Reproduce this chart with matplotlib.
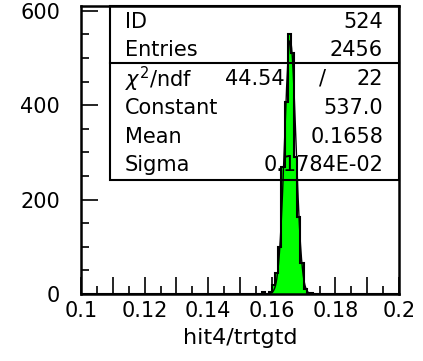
import numpy as np
import matplotlib
matplotlib.use('Agg')
import matplotlib.pyplot as plt
from matplotlib.ticker import MultipleLocator, FuncFormatter
from matplotlib.patches import Rectangle

# hit4/trtgtd, 100 bins of 0.001 between 0.1 and 0.2
bin_lo = 0.1
bin_hi = 0.2
n_bins = 100
# non-empty bins: lower edge -> content
filled_edges = [0.157, 0.158, 0.159, 0.160, 0.161, 0.162, 0.163, 0.164,
                0.165, 0.166, 0.167, 0.168, 0.169, 0.170, 0.171, 0.172]
filled_counts = [4, 1, 5, 19, 44, 99, 268, 406,
                 550, 510, 290, 163, 66, 10, 3, 2]

# gaussian fit results
hist_id = 524
entries = 2456
chi2 = 44.54
ndf = 22
g_const = 537.0
g_mean = 0.1658
g_sigma = 0.1784E-02

edges = np.linspace(bin_lo, bin_hi, n_bins + 1)
counts = np.zeros(n_bins)
for e, c in zip(filled_edges, filled_counts):
    counts[int(round((e - bin_lo) / 0.001))] = c

W, H = 423, 361
fig = plt.figure(figsize=(W / 100, H / 100), dpi=100)
ax = fig.add_axes([81 / W, 1 - 294 / H, 318 / W, 288 / H])

ax.stairs(counts, edges, fill=True, color='#00ff00', zorder=2)
ax.stairs(counts, edges, color='black', lw=1.5, zorder=3)

xf = np.linspace(0.155, 0.177, 400)
ax.plot(xf, g_const * np.exp(-0.5 * ((xf - g_mean) / g_sigma) ** 2),
        color='black', lw=1.0, zorder=4)

ax.set_xlim(bin_lo, bin_hi)
ax.set_ylim(0, 610)

ax.xaxis.set_major_locator(MultipleLocator(0.01))
ax.xaxis.set_minor_locator(MultipleLocator(0.005))
ax.xaxis.set_major_formatter(FuncFormatter(
    lambda v, p: ('%g' % round(v, 3)) if round(v * 100) % 2 == 0 else ''))
ax.yaxis.set_major_locator(MultipleLocator(200))
ax.yaxis.set_minor_locator(MultipleLocator(50))
ax.tick_params(which='major', direction='in', length=12, width=1.2,
               labelsize=15, pad=5)
ax.tick_params(which='minor', direction='in', length=6, width=1.2)
ax.tick_params(axis='y', which='major', pad=15)
for s in ax.spines.values():
    s.set_linewidth(1.8)
    s.set_zorder(5)

ax.set_xlabel('hit4/trtgtd', fontsize=16, labelpad=5)

# statistics box
def px(x, y):
    return x / W, 1 - y / H

box_l, box_t, box_r, box_b, box_mid = 110, 6, 399, 180, 63
fig.patches.append(Rectangle(px(box_l, box_b), (box_r - box_l) / W,
                             (box_b - box_t) / H, transform=fig.transFigure,
                             fill=False, lw=1.5, ec='black', zorder=6))
fig.lines.append(plt.Line2D([box_l / W, box_r / W], [1 - box_mid / H] * 2,
                            transform=fig.transFigure, color='black', lw=1.5))

rows = [
    ('ID', '%d' % hist_id, 22),
    ('Entries', '%d' % entries, 50),
    (r'$\chi^2$/ndf', '%d' % ndf, 79),
    ('Constant', '%.1f' % g_const, 108),
    ('Mean', '%.4f' % g_mean, 137),
    ('Sigma', '%.4fE-02' % (g_sigma * 100), 165),
]
fs = 15
for name, val, y in rows:
    fig.text(*px(125, y), name, fontsize=fs, va='center', ha='left')
    fig.text(*px(383, y), val, fontsize=fs, va='center', ha='right')
fig.text(*px(285, 79), '%.2f' % chi2, fontsize=fs, va='center', ha='right')
fig.text(*px(322, 79), '/', fontsize=fs, va='center', ha='center')

fig.savefig('out.png', dpi=100)
